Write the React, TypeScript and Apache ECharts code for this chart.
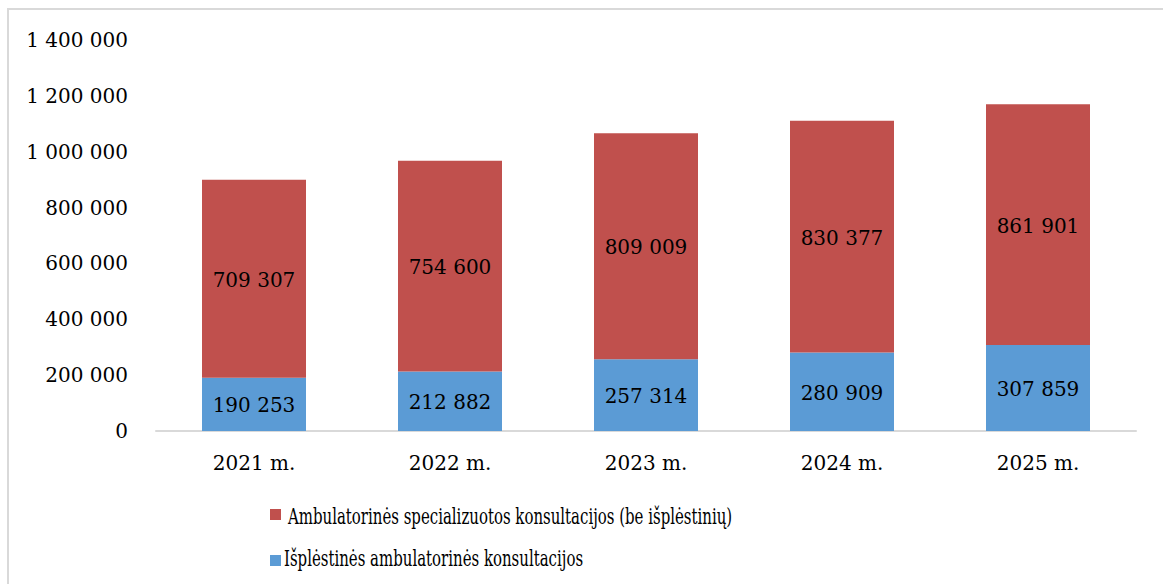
import React, { useEffect, useRef } from "react";
import * as echarts from "echarts";

const categories = ["2021 m.", "2022 m.", "2023 m.", "2024 m.", "2025 m."];
const extendedValues = [190253, 212882, 257314, 280909, 307859];
const specializedValues = [709307, 754600, 809009, 830377, 861901];
const seriesNames = [
  "Ambulatorinės specializuotos konsultacijos (be išplėstinių)",
  "Išplėstinės ambulatorinės konsultacijos",
];

const FONT = "DejaVu Serif";
const fmt = (v: number) => String(Math.round(v)).replace(/\B(?=(\d{3})+(?!\d))/g, " ");

export default function App() {
  const ref = useRef<HTMLDivElement>(null);
  useEffect(() => {
    if (!ref.current) return;
    const chart = echarts.init(ref.current, undefined, { renderer: "svg" });
    const legendItem = (color: string, text: string, boxX: number, boxY: number, textX: number, textY: number, sx: number) => ({
      type: "group",
      children: [
        { type: "rect", shape: { x: boxX, y: boxY, width: 11, height: 11 }, style: { fill: color } },
        {
          type: "text",
          x: textX,
          y: textY,
          scaleX: sx,
          style: { text, font: `22px "${FONT}"`, fill: "#000", textVerticalAlign: "middle", textAlign: "left" },
        },
      ],
    });
    chart.setOption({
      animation: false,
      grid: { left: 156, right: 27, top: 40, bottom: 153, containLabel: false },
      xAxis: {
        type: "category",
        data: categories,
        axisLine: { lineStyle: { color: "#d9d9d9", width: 2 } },
        axisTick: { show: false },
        axisLabel: { color: "#000", fontFamily: FONT, fontSize: 20, margin: 22 },
      },
      yAxis: {
        type: "value",
        min: 0,
        max: 1400000,
        interval: 200000,
        splitLine: { show: false },
        axisLine: { show: false },
        axisTick: { show: false },
        axisLabel: { color: "#000", fontFamily: FONT, fontSize: 20, margin: 28, formatter: (v: number) => fmt(v) },
      },
      series: [
        {
          name: seriesNames[1],
          type: "bar",
          stack: "total",
          data: extendedValues,
          barWidth: 104,
          itemStyle: { color: "#5B9BD5" },
          label: { show: true, position: "inside", offset: [0, 1], color: "#000", fontFamily: FONT, fontSize: 20, formatter: (p: any) => fmt(p.value) },
        },
        {
          name: seriesNames[0],
          type: "bar",
          stack: "total",
          data: specializedValues,
          barWidth: 104,
          itemStyle: { color: "#C0504D" },
          label: { show: true, position: "inside", offset: [0, 1], color: "#000", fontFamily: FONT, fontSize: 20, formatter: (p: any) => fmt(p.value) },
        },
      ],
      graphic: [
        legendItem("#C0504D", seriesNames[0], 270, 509, 288, 516, 0.68),
        legendItem("#5B9BD5", seriesNames[1], 270, 555, 284, 558, 0.68),
      ],
    });
    return () => chart.dispose();
  }, []);
  return (
    <div style={{ position: "fixed", left: 0, top: 0, width: 1163, height: 584, overflow: "hidden", background: "#fff" }}>
      <div
        style={{
          position: "absolute",
          left: 7,
          top: 8,
          width: 2000,
          height: 2000,
          borderLeft: "2px solid #d9d9d9",
          borderTop: "2px solid #d9d9d9",
        }}
      />
      <div ref={ref} style={{ position: "absolute", left: 0, top: 0, width: 1163, height: 584 }} />
    </div>
  );
}
